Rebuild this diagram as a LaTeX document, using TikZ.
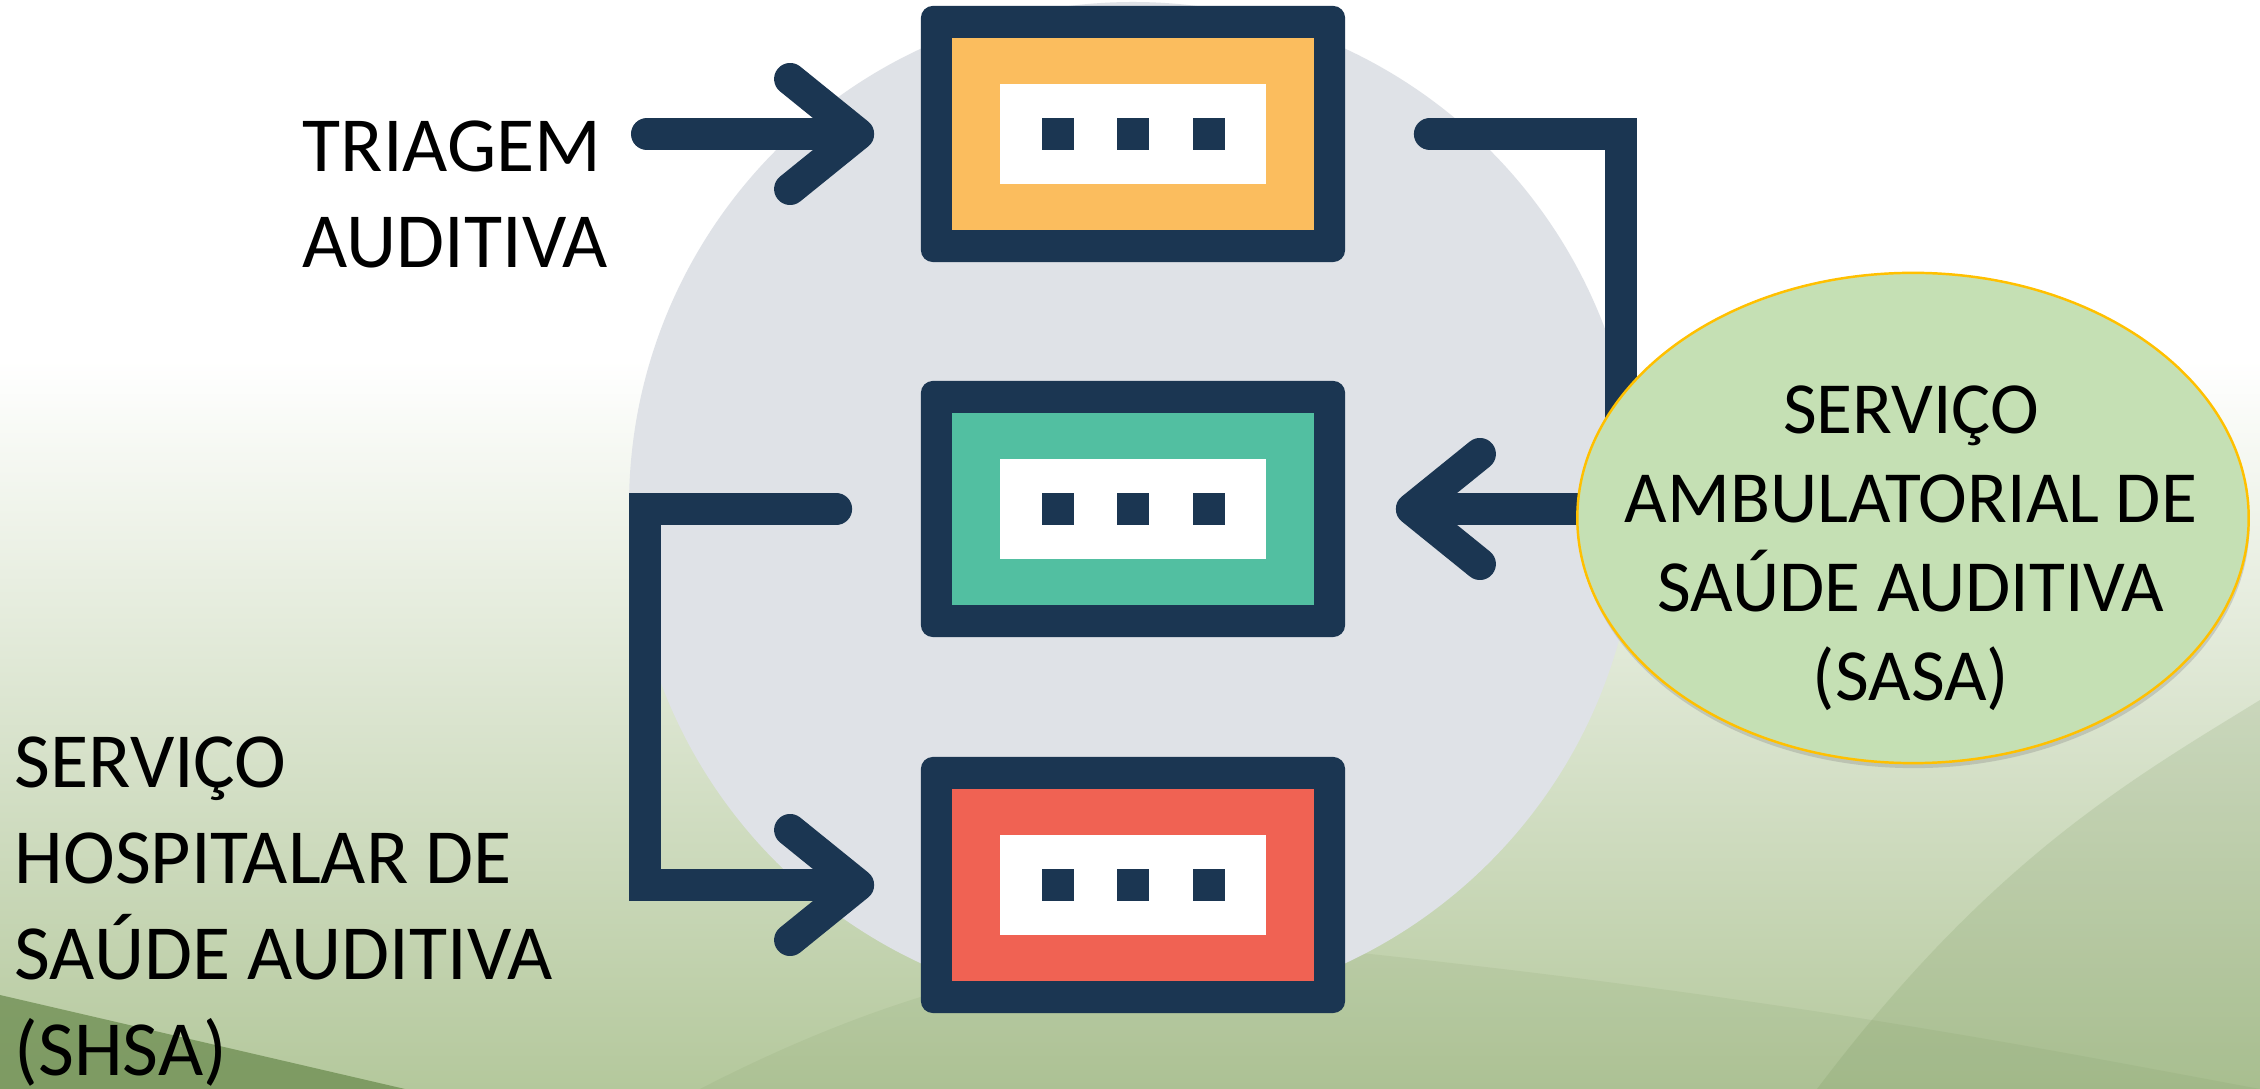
\documentclass[tikz,border=0pt]{standalone}
\usepackage{fontspec}
\setmainfont{Carlito}
\usepackage{xcolor}
\usetikzlibrary{arrows.meta,shapes.geometric,shadows}

\definecolor{navy}{RGB}{27,54,82}
\definecolor{boxorange}{RGB}{251,189,94}
\definecolor{boxteal}{RGB}{82,191,161}
\definecolor{boxred}{RGB}{240,98,83}
\definecolor{disc}{RGB}{223,226,231}
\definecolor{sasafill}{RGB}{197,224,180}
\definecolor{sasaline}{RGB}{255,192,0}
\definecolor{meadowlight}{RGB}{234,239,226}
\definecolor{meadow}{RGB}{180,200,156}
\definecolor{meadowdark}{RGB}{108,140,80}

\tikzset{
  flow/.style={draw=navy, line width=0.32cm, line cap=round,
    -{Straight Barb[round, length=0.68cm, width=1.1cm]}},
  outerbox/.style={fill=navy, rounded corners=0.12cm, minimum width=4.24cm,
    minimum height=2.56cm, inner sep=0},
  sasa/.style={ellipse, draw=sasaline, line width=0.7pt, fill=sasafill,
    minimum width=6.71cm, minimum height=4.9cm, inner sep=0,
    drop shadow={shadow xshift=0.01cm, shadow yshift=-0.05cm, opacity=0.3}},
  labeltext/.style={font={\fontsize{22.2pt}{27.3pt}\selectfont}, align=left, inner sep=0},
}

\begin{document}
\begin{tikzpicture}[x=0.01cm, y=-0.01cm]
\path[use as bounding box, clip] (0,0) rectangle (2260,1089);
\fill[white] (0,0) rectangle (2260,1089);
\shade[top color=white, middle color=meadowlight, bottom color=meadow] (0,360) rectangle (2260,1089);
\fill[meadowdark, opacity=0.16] (1817,1089) .. controls (1990,860) and (2130,780) .. (2260,700) -- (2260,1089) -- cycle;
\fill[meadowdark, opacity=0.10] (700,1089) .. controls (950,960) and (1150,935) .. (1361,953) .. controls (1800,1000) and (2050,1050) .. (2260,1089) -- cycle;
\fill[meadowdark, opacity=0.75] (0,995) -- (405,1089) -- (0,1089) -- cycle;
\fill[disc] (1133,506) circle (504);

\coordinate (inicio) at (647,134);
\foreach \n/\y/\col in {1/134/boxorange, 2/509/boxteal, 3/885/boxred} {
  \node[outerbox] (etapa\n) at (1133,\y) {};
  \fill[\col] (952,\y-96) rectangle (1314,\y+96);
  \fill[white] (1000,\y-50) rectangle (1266,\y+50);
  \foreach \x in {1058,1133,1209}
    \fill[navy] (\x-16,\y-16) rectangle (\x+16,\y+16);
}

\draw[flow, shorten >=0.46cm] (inicio) -- (etapa1.west);
\draw[flow, line join=miter, shorten <=0.84cm, shorten >=0.5cm] (etapa1.east) -- ++(275,0) |- (etapa2.east);
\draw[flow, line join=miter, shorten <=0.84cm, shorten >=0.46cm] (etapa2.west) -- ++(-275,0) |- (etapa3.west);

\node[sasa] (sasa) at (1913,518) {};
\node[labeltext, align=center, font={\fontsize{20.9pt}{25.3pt}\selectfont}, anchor=north] (sasatxt) at (1911,385) {SERVIÇO\\AMBULATORIAL DE\\SAÚDE AUDITIVA\\(SASA)};
\node[labeltext, anchor=north west] (triagem) at (302,120) {TRIAGEM\\AUDITIVA};
\node[labeltext, anchor=north west] (shsa) at (14,736) {SERVIÇO\\HOSPITALAR DE\\SAÚDE AUDITIVA\\(SHSA)};
\end{tikzpicture}
\end{document}
